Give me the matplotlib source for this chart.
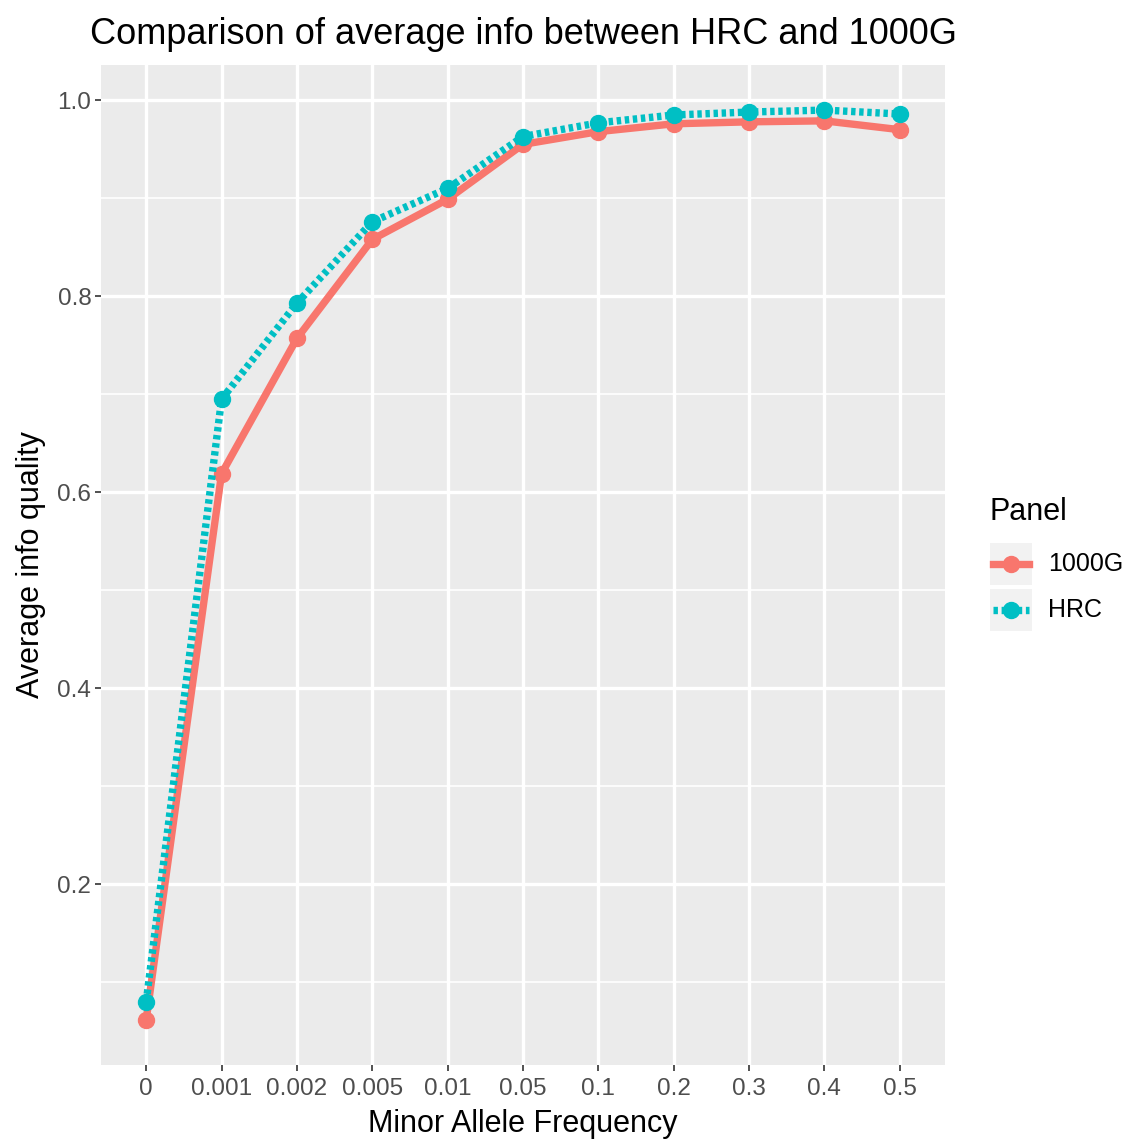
import matplotlib.pyplot as plt
from matplotlib.lines import Line2D
from matplotlib.patches import Rectangle

plt.rcParams['font.family'] = ['Liberation Sans', 'DejaVu Sans']

maf_labels = ['0', '0.001', '0.002', '0.005', '0.01', '0.05', '0.1', '0.2', '0.3', '0.4', '0.5']
info_1000g = [0.062, 0.619, 0.757, 0.858, 0.899, 0.955, 0.968, 0.976, 0.978, 0.979, 0.970]
info_hrc = [0.080, 0.695, 0.793, 0.876, 0.910, 0.963, 0.977, 0.985, 0.988, 0.990, 0.986]
panels = ['1000G', 'HRC']
colors = {'1000G': '#F8766D', 'HRC': '#00BFC4'}
styles = {'1000G': '-', 'HRC': (0, (0.6, 0.5))}

W, H = 1126, 1140
fig = plt.figure(figsize=(W / 100, H / 100), dpi=100)
ax = fig.add_axes([101 / W, 1 - 1065 / H, 844 / W, 1000 / H])
ax.set_facecolor('#EBEBEB')

x = list(range(len(maf_labels)))
for name, vals in zip(panels, [info_1000g, info_hrc]):
    ax.plot(x, vals, color=colors[name], linestyle=styles[name], linewidth=5.3,
            marker='o', markersize=11.5, solid_capstyle='butt', dash_capstyle='butt', zorder=3)

ax.set_xlim(-0.6, 10.6)
ax.set_ylim(0.0156, 1.036)
ax.set_xticks(x)
ax.set_xticklabels(maf_labels)
ax.set_yticks([0.2, 0.4, 0.6, 0.8, 1.0])
ax.set_yticks([0.1, 0.3, 0.5, 0.7, 0.9], minor=True)
ax.grid(which='major', color='white', linewidth=2.4)
ax.grid(which='minor', axis='y', color='white', linewidth=1.2)
ax.set_axisbelow(True)
for s in ax.spines.values():
    s.set_visible(False)
ax.tick_params(which='major', colors='#333333', length=4, width=1.2, labelsize=17.5, labelcolor='#4D4D4D')
ax.tick_params(which='minor', length=0)
ax.tick_params(axis='x', pad=5.5)
ax.tick_params(axis='y', pad=3)

ax.set_xlabel('Minor Allele Frequency', fontsize=22, labelpad=6)
ax.set_ylabel('Average info quality', fontsize=22, labelpad=8)
ax.set_title('Comparison of average info between HRC and 1000G', fontsize=26, pad=15)

# legend
fig.text(990 / W, 1 - 512 / H, 'Panel', fontsize=22, va='center', ha='left')
for i, name in enumerate(panels):
    y0 = 543 + i * 46
    fig.patches.append(Rectangle((990 / W, 1 - (y0 + 42) / H), 42 / W, 42 / H,
                                 transform=fig.transFigure, facecolor='#F2F2F2', edgecolor='none'))
    yc = 1 - (y0 + 21) / H
    fig.lines.append(Line2D([993 / W, 1029 / W], [yc, yc], transform=fig.transFigure,
                            color=colors[name], linestyle=styles[name], linewidth=5.3,
                            dash_capstyle='butt'))
    fig.lines.append(Line2D([1011 / W], [yc], transform=fig.transFigure,
                            color=colors[name], marker='o', markersize=11.5, linestyle='none'))
    fig.text(1048 / W, yc, name, fontsize=18, va='center', ha='left')

fig.savefig('out.png', dpi=100)
